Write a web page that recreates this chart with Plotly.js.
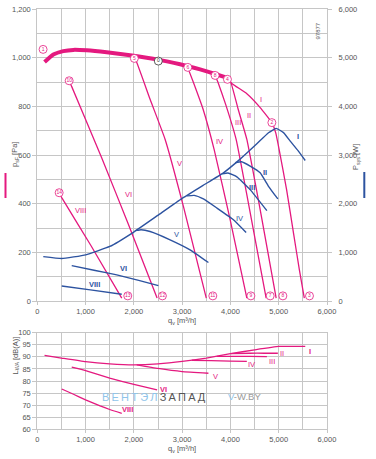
<!DOCTYPE html>
<html><head><meta charset="utf-8">
<script src="https://cdn.plot.ly/plotly-3.0.1.min.js"></script>
<style>html,body{margin:0;padding:0;background:#fff}#chart{width:376px;height:459px}</style>
</head><body><div id="chart"></div>
<script>
// ---------- pressure curves p_sF [Pa] vs q_v [m3/h] ----------
const envQ = [150, 332, 539, 746, 1024, 1438, 1921, 2508, 2957, 3117, 3372, 3683, 3938];
const envP = [982, 1013, 1027, 1032, 1030, 1022, 1010, 992, 973, 965, 952, 933, 917];
const fanI_Q = [3938, 4029, 4340, 4616, 4858, 4940, 5015, 5163, 5312, 5428, 5530];
const fanI_P = [917, 894, 852, 795, 733, 690, 616, 458, 272, 128, 12];
const fanII_Q = [3950, 4008, 4160, 4340, 4647, 4947];
const fanII_P = [908, 898, 788, 664, 342, 12];
const fanIII_Q = [3683, 3740, 3901, 4118, 4429, 4740];
const fanIII_P = [927, 900, 808, 664, 342, 12];
const fanIV_Q = [3120, 3230, 3434, 3662, 3994, 4340];
const fanIV_P = [957, 900, 788, 623, 334, 12];
const fanV_Q = [2010, 2060, 2336, 2648, 3026, 3500];
const fanV_P = [997, 980, 829, 664, 389, 12];
const fanVI_Q = [680, 713, 1335, 1890, 2481];
const fanVI_P = [895, 881, 588, 313, 12];
const fanVIII_Q = [470, 506, 1110, 1749];
const fanVIII_P = [440, 425, 228, 12];

// ---------- power curves P_sys [W] ----------
const pwrI_Q = [124, 506, 1003, 1501, 1998, 2495, 2993, 3426, 3855, 4201, 4547, 4788, 4947, 5100, 5238, 5400, 5549];
const pwrI_W = [913, 872, 949, 1120, 1417, 1759, 2103, 2370, 2633, 2915, 3230, 3458, 3547, 3460, 3285, 3090, 2887];
const pwrII_Q = [4100, 4230, 4408, 4616, 4788, 4982];
const pwrII_W = [2840, 2860, 2770, 2633, 2357, 2097];
const pwrIII_Q = [3830, 3950, 4133, 4408, 4755];
const pwrIII_W = [2615, 2630, 2551, 2289, 1856];
const pwrIV_Q = [3100, 3250, 3440, 3718, 4062, 4325];
const pwrIV_W = [2160, 2170, 2097, 1911, 1670, 1408];
const pwrV_Q = [2050, 2150, 2336, 2750, 3164, 3544];
const pwrV_W = [1450, 1465, 1429, 1258, 1052, 790];
const pwrVI_Q = [713, 1200, 1646, 2100, 2508];
const pwrVI_W = [728, 628, 536, 425, 315];
const pwrVIII_Q = [506, 1100, 1749];
const pwrVIII_W = [309, 228, 138];

// ---------- sound power L_WA [dB(A)] ----------
const snI_Q = [150, 500, 1000, 1500, 2000, 2500, 3000, 3500, 4000, 4500, 5000, 5550];
const snI_L = [90.6, 89.5, 88.0, 87.1, 86.7, 87.1, 88.1, 89.5, 91.3, 92.9, 94.3, 94.3];
const snII_Q = [4008, 4400, 4700, 4982];
const snII_L = [91.3, 91.5, 91.5, 91.5];
const snIII_Q = [3718, 4100, 4400, 4755];
const snIII_L = [90.2, 90.2, 90.2, 90.1];
const snIV_Q = [3200, 3600, 4000, 4340];
const snIV_L = [88.6, 88.4, 88.2, 88.1];
const snV_Q = [2060, 2500, 3000, 3544];
const snV_L = [86.7, 85.2, 83.9, 83.2];
const snVI_Q = [713, 1000, 1500, 2000, 2481];
const snVI_L = [85.7, 84.3, 81.2, 78.6, 76.3];
const snVIII_Q = [506, 750, 1000, 1300, 1500, 1749];
const snVIII_L = [76.7, 74.5, 72.2, 69.7, 68.2, 66.6];

// ---------- operating point markers ----------
const ptTopQ = [120, 660, 453, 2010, 3117, 3683, 3938, 4858];
const ptTopP = [1034, 905, 445, 997, 960, 927, 911, 733];
const ptTopLbl = ['1', '10', '14', '5', '6', '8', '4', '2'];
const ptBlkQ = [2506];
const ptBlkP = [986];
const ptBlkLbl = ['0'];
const ptBotQ = [1874, 2591, 3635, 4423, 4823, 5086, 5637];
const ptBotP = [21, 21, 21, 21, 21, 21, 21];
const ptBotLbl = ['13', '12', '11', '9', '7', '8', '3'];

const PINK = '#e4197f', BLUE = '#2d53a0', GRID = '#c6c6c6', TXT = '#555';
const FONT = 'Liberation Sans, Arial, sans-serif';

function ln(q, v, xa, ya, color, width) {
  return {type: 'scatter', mode: 'lines', x: q, y: v, xaxis: xa, yaxis: ya,
          line: {color: color, width: width, shape: 'spline', smoothing: 0.35}, hoverinfo: 'skip'};
}
function pts(q, v, lbl, col) {
  return {type: 'scatter', mode: 'markers+text', x: q, y: v, text: lbl, xaxis: 'x', yaxis: 'y',
          textposition: 'middle center', textfont: {size: 5, color: col, family: FONT},
          marker: {symbol: 'circle', size: 8, color: '#fff', line: {color: col, width: 0.8}}, hoverinfo: 'skip'};
}

const traces = [
  ln(pwrI_Q, pwrI_W, 'x', 'y2', BLUE, 1.4),
  ln(pwrII_Q, pwrII_W, 'x', 'y2', BLUE, 1.4),
  ln(pwrIII_Q, pwrIII_W, 'x', 'y2', BLUE, 1.4),
  ln(pwrIV_Q, pwrIV_W, 'x', 'y2', BLUE, 1.4),
  ln(pwrV_Q, pwrV_W, 'x', 'y2', BLUE, 1.4),
  ln(pwrVI_Q, pwrVI_W, 'x', 'y2', BLUE, 1.4),
  ln(pwrVIII_Q, pwrVIII_W, 'x', 'y2', BLUE, 1.4),
  ln(envQ, envP, 'x', 'y', PINK, 4),
  ln(fanI_Q, fanI_P, 'x', 'y', PINK, 1.3),
  ln(fanII_Q, fanII_P, 'x', 'y', PINK, 1.3),
  ln(fanIII_Q, fanIII_P, 'x', 'y', PINK, 1.3),
  ln(fanIV_Q, fanIV_P, 'x', 'y', PINK, 1.3),
  ln(fanV_Q, fanV_P, 'x', 'y', PINK, 1.3),
  ln(fanVI_Q, fanVI_P, 'x', 'y', PINK, 1.3),
  ln(fanVIII_Q, fanVIII_P, 'x', 'y', PINK, 1.3),
  pts(ptTopQ, ptTopP, ptTopLbl, PINK),
  pts(ptBlkQ, ptBlkP, ptBlkLbl, '#333'),
  pts(ptBotQ, ptBotP, ptBotLbl, PINK),
  ln(snI_Q, snI_L, 'x2', 'y3', PINK, 1.3),
  ln(snII_Q, snII_L, 'x2', 'y3', PINK, 1.3),
  ln(snIII_Q, snIII_L, 'x2', 'y3', PINK, 1.3),
  ln(snIV_Q, snIV_L, 'x2', 'y3', PINK, 1.3),
  ln(snV_Q, snV_L, 'x2', 'y3', PINK, 1.3),
  ln(snVI_Q, snVI_L, 'x2', 'y3', PINK, 1.3),
  ln(snVIII_Q, snVIII_L, 'x2', 'y3', PINK, 1.3)
];

const XD = [37.3 / 376, 327 / 376];
const tickFont = {family: FONT, size: 7.5, color: TXT};
function xax(anchor, title) {
  return {domain: XD, anchor: anchor, range: [0, 6000], dtick: 1000, tick0: 0, tickformat: ',d',
          showgrid: true, gridcolor: GRID, gridwidth: 1, zeroline: false,
          minor: {dtick: 500, showgrid: true, gridcolor: GRID, gridwidth: 1},
          showline: true, linecolor: GRID, mirror: true, ticks: 'outside', ticklen: 3, tickcolor: GRID,
          tickfont: tickFont, fixedrange: true,
          title: {text: title, font: {family: FONT, size: 7.5, color: TXT}, standoff: 2}};
}
function lab(x, y, t, col, xr, yr, bold) {
  return {x: x, y: y, xref: xr, yref: yr, text: bold ? '<b>' + t + '</b>' : t, showarrow: false,
          font: {family: FONT, size: 7.5, color: col}};
}

const layout = {
  width: 376, height: 459, margin: {l: 0, r: 0, t: 0, b: 0}, showlegend: false,
  paper_bgcolor: '#fff', plot_bgcolor: '#fff',
  font: {family: FONT, size: 7.5, color: TXT},
  xaxis: xax('y', 'q<sub>v</sub> [m³/h]'),
  yaxis: {domain: [158 / 459, 450 / 459], anchor: 'x', range: [0, 1200], dtick: 200, tickformat: ',d',
          showgrid: true, gridcolor: GRID, zeroline: false,
          minor: {dtick: 100, showgrid: true, gridcolor: GRID},
          showline: true, linecolor: GRID, mirror: true, ticks: 'outside', ticklen: 4, tickcolor: GRID,
          tickfont: tickFont, fixedrange: true},
  yaxis2: {overlaying: 'y', side: 'right', anchor: 'x', range: [0, 6000], dtick: 1000, tickformat: ',d',
           showgrid: false, zeroline: false, showline: false, ticks: 'outside', ticklen: 4, tickcolor: GRID,
           ticklabelstandoff: 5, tickfont: tickFont, fixedrange: true},
  xaxis2: xax('y3', 'q<sub>v</sub> [m³/h]'),
  yaxis3: {domain: [29.7 / 459, 126.3 / 459], anchor: 'x2', range: [60, 100], dtick: 5,
           showgrid: true, gridcolor: GRID, zeroline: false,
           showline: true, linecolor: GRID, mirror: true, ticks: 'outside', ticklen: 4, tickcolor: GRID,
           tickfont: tickFont, fixedrange: true},
  shapes: [
    {type: 'line', xref: 'paper', yref: 'paper', x0: 5.5 / 376, x1: 5.5 / 376, y0: 1 - 173 / 459, y1: 1 - 198 / 459,
     line: {color: PINK, width: 2}},
    {type: 'line', xref: 'paper', yref: 'paper', x0: 364.3 / 376, x1: 364.3 / 376, y0: 1 - 172 / 459, y1: 1 - 198 / 459,
     line: {color: BLUE, width: 2}}
  ],
  annotations: [
    {x: 8 / 376, y: 1 - 155 / 459, xref: 'paper', yref: 'paper', text: 'p<sub>sF</sub> [Pa]', textangle: -90,
     showarrow: false, font: {family: FONT, size: 7.5, color: TXT}},
    {x: 363 / 376, y: 1 - 157 / 459, xref: 'paper', yref: 'paper', text: 'P<sub>sys</sub> [W]', textangle: -90,
     showarrow: false, font: {family: FONT, size: 7.5, color: TXT}},
    {x: 8 / 376, y: 1 - 376.5 / 459, xref: 'paper', yref: 'paper', text: 'L<sub>WA</sub> [dB(A)]', textangle: -90,
     showarrow: false, font: {family: FONT, size: 7.5, color: TXT}},
    {x: 323 / 376, y: 1 - 21 / 459, xref: 'paper', yref: 'paper', text: '97877', textangle: -90,
     showarrow: false, font: {family: FONT, size: 6, color: TXT}},
    // pink fan-curve labels
    lab(4636, 829, 'I', PINK, 'x', 'y'), lab(4394, 763, 'II', PINK, 'x', 'y'), lab(4166, 733, 'III', PINK, 'x', 'y'),
    lab(3772, 657, 'IV', PINK, 'x', 'y'), lab(2937, 565, 'V', PINK, 'x', 'y'), lab(1886, 437, 'VI', PINK, 'x', 'y'),
    lab(885, 372, 'VIII', PINK, 'x', 'y'),
    // blue power labels
    lab(5409, 3388, 'I', BLUE, 'x', 'y2', true), lab(4719, 2633, 'II', BLUE, 'x', 'y2', true),
    lab(4444, 2324, 'III', BLUE, 'x', 'y2', true), lab(4187, 1705, 'IV', BLUE, 'x', 'y2'),
    lab(2889, 1361, 'V', BLUE, 'x', 'y2'), lab(1782, 674, 'VI', BLUE, 'x', 'y2', true),
    lab(1181, 330, 'VIII', BLUE, 'x', 'y2', true),
    // sound labels
    lab(5652, 92.4, 'I', PINK, 'x2', 'y3', true), lab(5078, 91.5, 'II', PINK, 'x2', 'y3'),
    lab(4858, 88.0, 'III', PINK, 'x2', 'y3'), lab(4444, 86.9, 'IV', PINK, 'x2', 'y3'),
    lab(3683, 81.8, 'V', PINK, 'x2', 'y3'), lab(2611, 76.3, 'VI', PINK, 'x2', 'y3', true),
    lab(1874, 68.0, 'VIII', PINK, 'x2', 'y3', true),
    // watermark
    {x: 1300, y: 73.5, xref: 'x2', yref: 'y3', xanchor: 'left', showarrow: false,
     text: '<span style="color:#8fc4ea">В\u2009Е\u2009Н\u2009Т\u2009Э\u2009Л</span>\u2009<span style="color:#555">З\u2009А\u2009П\u2009А\u2009Д</span>',
     font: {family: FONT, size: 11, color: '#555'}},
    {x: 3911, y: 73.5, xref: 'x2', yref: 'y3', xanchor: 'left', showarrow: false,
     text: '<span style="color:#8fc4ea">V</span><span style="color:#9a9a9a">-W.BY</span>',
     font: {family: FONT, size: 9.5, color: '#9a9a9a'}}
  ]
};

Plotly.newPlot('chart', traces, layout, {displayModeBar: false, staticPlot: true});
</script>
</body></html>
